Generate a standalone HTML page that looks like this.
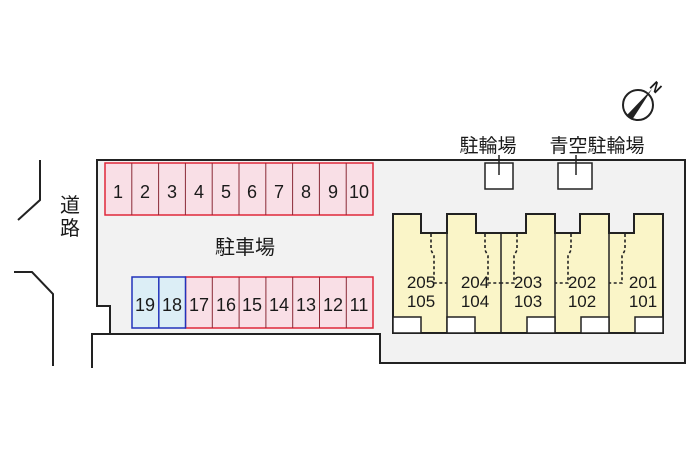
<!DOCTYPE html>
<html><head><meta charset="utf-8"><style>
body{margin:0;background:#fff}
svg text{font-family:"Liberation Sans","Noto Sans CJK JP",sans-serif;fill:#1a1a1a}
</style></head><body>
<svg width="700" height="467" viewBox="0 0 700 467" xmlns="http://www.w3.org/2000/svg">
<rect width="700" height="467" fill="#fff"/>
<polyline points="40,160 40,200 18,220" fill="none" stroke="#222" stroke-width="2"/>
<polyline points="14,272 32,272 53,294 53,366" fill="none" stroke="#222" stroke-width="2"/>
<text x="70" y="212" font-size="20" text-anchor="middle">道</text>
<text x="70" y="235" font-size="20" text-anchor="middle">路</text>
<path d="M97,160 H685 V363 H380 V334 H110 V306 H97 Z" fill="#f2f2f2" stroke="#222" stroke-width="2"/>
<polyline points="92,368 92,334 110,334" fill="none" stroke="#222" stroke-width="2"/>
<rect x="105" y="163" width="268" height="52" fill="#f9dfe6" stroke="#e0283a" stroke-width="1.5"/>
<g stroke="#8a2a36" stroke-width="1">
<line x1="131.8" y1="163" x2="131.8" y2="215"/><line x1="158.6" y1="163" x2="158.6" y2="215"/><line x1="185.4" y1="163" x2="185.4" y2="215"/><line x1="212.2" y1="163" x2="212.2" y2="215"/><line x1="239" y1="163" x2="239" y2="215"/><line x1="265.8" y1="163" x2="265.8" y2="215"/><line x1="292.6" y1="163" x2="292.6" y2="215"/><line x1="319.4" y1="163" x2="319.4" y2="215"/><line x1="346.2" y1="163" x2="346.2" y2="215"/>
</g>
<g font-size="18" text-anchor="middle">
<text x="118" y="198">1</text><text x="145" y="198">2</text><text x="172" y="198">3</text><text x="199" y="198">4</text><text x="226" y="198">5</text><text x="252" y="198">6</text><text x="279" y="198">7</text><text x="306" y="198">8</text><text x="333" y="198">9</text><text x="359" y="198">10</text>
</g>
<text x="245" y="254" font-size="20" text-anchor="middle">駐車場</text>
<rect x="185.5" y="277" width="187.5" height="51" fill="#f9dfe6" stroke="#e0283a" stroke-width="1.5"/>
<rect x="132" y="277" width="53.5" height="51" fill="#dceef6" stroke="#2233bb" stroke-width="1.5"/>
<line x1="158.8" y1="277" x2="158.8" y2="328" stroke="#2233bb" stroke-width="1.5"/>
<g stroke="#8a2a36" stroke-width="1">
<line x1="212.3" y1="277" x2="212.3" y2="328"/><line x1="239.1" y1="277" x2="239.1" y2="328"/><line x1="265.9" y1="277" x2="265.9" y2="328"/><line x1="292.7" y1="277" x2="292.7" y2="328"/><line x1="319.5" y1="277" x2="319.5" y2="328"/><line x1="346.3" y1="277" x2="346.3" y2="328"/>
</g>
<g font-size="18" text-anchor="middle">
<text x="145" y="311">19</text><text x="172" y="311">18</text><text x="199" y="311">17</text><text x="226" y="311">16</text><text x="252" y="311">15</text><text x="279" y="311">14</text><text x="306" y="311">13</text><text x="333" y="311">12</text><text x="359" y="311">11</text>
</g>
<path d="M393,214 H421 V233 H447 V214 H476 V233 H526 V214 H555 V233 H580 V214 H609 V233 H634 V214 H663 V333 H393 Z" fill="#faf5c8" stroke="#222" stroke-width="2"/>
<g stroke="#222" stroke-width="1.5">
<line x1="447" y1="233" x2="447" y2="333"/><line x1="501" y1="233" x2="501" y2="333"/><line x1="555" y1="233" x2="555" y2="333"/><line x1="609" y1="233" x2="609" y2="333"/>
</g>
<g fill="#fff" stroke="#222" stroke-width="1.5">
<rect x="393" y="317" width="28" height="16"/><rect x="447" y="317" width="28" height="16"/><rect x="527" y="317" width="28" height="16"/><rect x="581" y="317" width="28" height="16"/><rect x="635" y="317" width="28" height="16"/>
</g>
<g fill="none" stroke="#222" stroke-width="1.6" stroke-dasharray="3,2.5">
<polyline points="431,234 431,250 434,256 434,283 447,283"/>
<polyline points="485,234 485,250 488,256 488,283 501,283"/>
<polyline points="517,234 517,250 514,256 514,283 501,283"/>
<polyline points="571,234 571,250 568,256 568,283 555,283"/>
<polyline points="625,234 625,250 622,256 622,283 609,283"/>
</g>
<g font-size="17" text-anchor="middle">
<text x="421" y="288">205</text><text x="421" y="307">105</text>
<text x="475" y="288">204</text><text x="475" y="307">104</text>
<text x="528" y="288">203</text><text x="528" y="307">103</text>
<text x="582" y="288">202</text><text x="582" y="307">102</text>
<text x="643" y="288">201</text><text x="643" y="307">101</text>
</g>
<rect x="485" y="163" width="28" height="26" fill="#fff" stroke="#222" stroke-width="1.5"/>
<rect x="558" y="163" width="34" height="26" fill="#fff" stroke="#222" stroke-width="1.5"/>
<line x1="499" y1="155" x2="499" y2="175" stroke="#222" stroke-width="1.5"/>
<line x1="576" y1="155" x2="576" y2="175" stroke="#222" stroke-width="1.5"/>
<text x="488" y="152" font-size="19" text-anchor="middle">駐輪場</text>
<text x="597" y="152" font-size="19" text-anchor="middle">青空駐輪場</text>
<circle cx="638" cy="105" r="15" fill="#fff" stroke="#222" stroke-width="2"/>
<polygon points="652,89 627,115 632,120" fill="#222"/>
<text x="656" y="92" font-size="14" font-weight="bold" text-anchor="middle" transform="rotate(45 656 87)">N</text>
</svg>
</body></html>
